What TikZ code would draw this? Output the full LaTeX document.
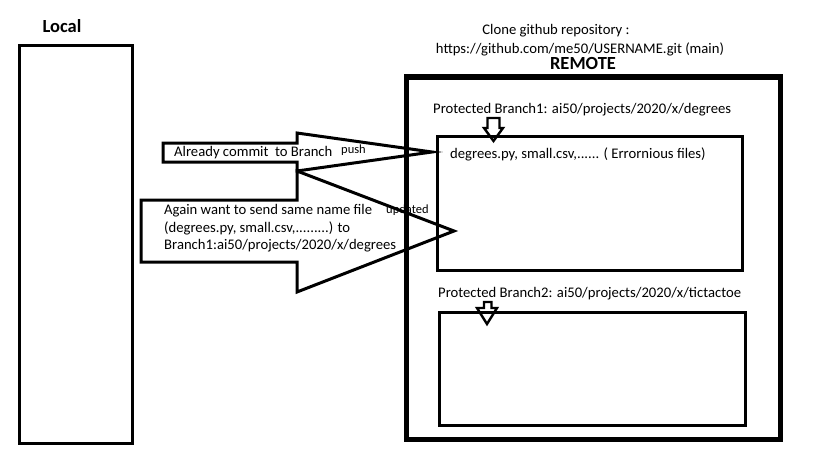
\documentclass[tikz,border=0pt]{standalone}
\usepackage{fontspec}
\setmainfont{Carlito}
\begin{document}
\begin{tikzpicture}[x=1pt,y=-1pt,line join=miter,
  txt/.style={inner sep=0pt,anchor=base west,font=\fontsize{14.67}{17}\selectfont},
  small/.style={inner sep=0pt,anchor=base west,font=\fontsize{12.5}{14}\selectfont},
  title/.style={inner sep=0pt,anchor=base,font=\fontsize{18.5}{21}\selectfont\bfseries},
  box/.style={draw,line width=3pt,inner sep=0pt,outer sep=0pt},
  blockarrow/.style={draw,line width=3pt},
  downarrow/.style={draw,line width=2.4pt}]
\useasboundingbox[fill=white] (0,0) rectangle (819,460);

% boxes
\node (local) [box,minimum width=113pt,minimum height=397pt] at (75.5,244.5) {};
\node (remote) [box,line width=5pt,minimum width=374pt,minimum height=362pt] at (593,258) {};
\node (b1) [box,minimum width=305pt,minimum height=134pt] at (589.5,203) {};
\node (b2) [box,minimum width=306pt,minimum height=113pt] at (592,368.5) {};

% titles
\node (localt) [title] at (62,33) {Local};
\node (remotet) [title] at (583,70) {REMOTE};
\node (clone) [txt,anchor=base] at (556,35) {Clone github repository :};
\node (url) [txt,anchor=base] at (580,53) {https://github.com/me50/USERNAME.git (main)};

% branch labels
\node (b1t) [txt] at (433,113) {Protected Branch1: ai50/projects/2020/x/degrees};
\node (b1f) [txt] at (450,158) {degrees.py, small.csv,...... ( Errornious files)};
\node (b2t) [txt] at (438,297) {Protected Branch2: ai50/projects/2020/x/tictactoe};

% small down arrows
\draw[downarrow] (487.5,118) -- (499.5,118) -- (499.5,128) -- (503,128) -- (493.5,141) -- (484,128) -- (487.5,128) -- cycle;
\draw[downarrow] (484,302) -- (491.5,302) -- (491.5,308) -- (497,308) -- (487,324) -- (477,308) -- (484,308) -- cycle;

% block arrows
\coordinate (a1tip) at (432,152);
\coordinate (a2tip) at (454,231);
\draw[blockarrow] (163,143) -- (297,143) -- (297,133) -- (a1tip) -- (297,171) -- (297,162) -- (163,162) -- cycle;
\draw[blockarrow] (141,200) -- (297,200) -- (297,171) -- (a2tip) -- (297,292) -- (297,262) -- (141,262) -- cycle;

% arrow texts
\node (a1t) [txt] at (174,156) {Already commit \ to Branch};
\node (push) [small] at (341,153) {push};
\node (a2t1) [txt] at (164,214) {Again want to send same name file};
\node (upd) [small] at (386,213) {updated};
\node (a2t2) [txt] at (164,232) {(degrees.py, small.csv,.........) to};
\node (a2t3) [txt] at (164,249) {Branch1:ai50/projects/2020/x/degrees};
\end{tikzpicture}
\end{document}
